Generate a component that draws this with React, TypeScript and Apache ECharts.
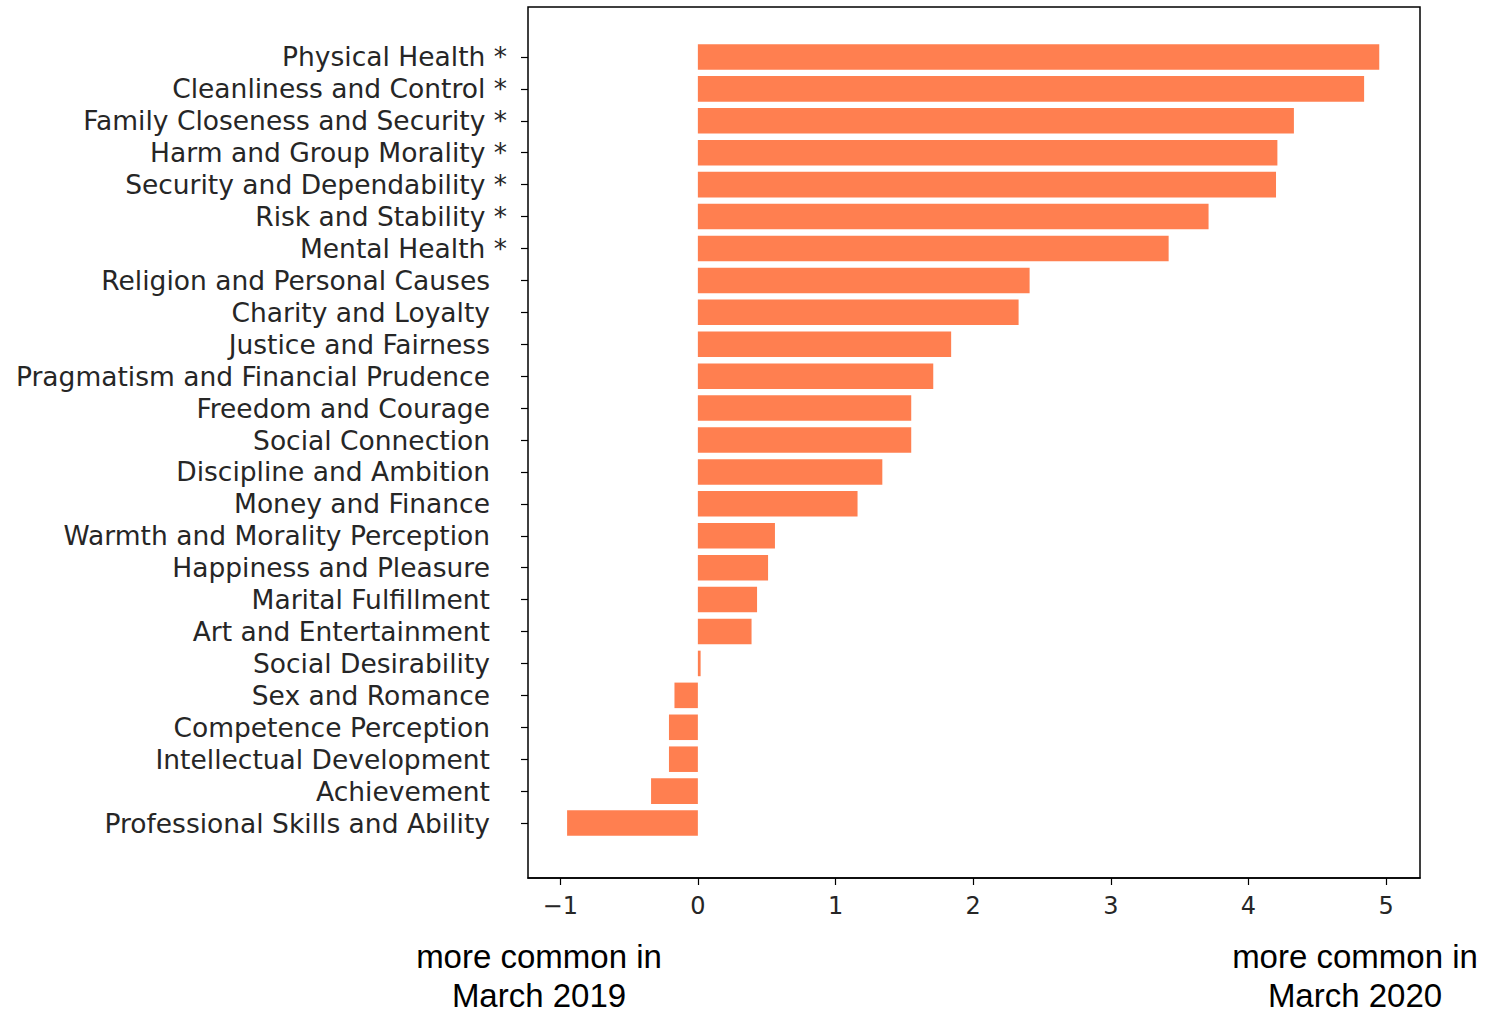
import React, { useEffect, useRef } from "react";
import * as echarts from "echarts";

const categories = [
  "Physical Health *",
  "Cleanliness and Control *",
  "Family Closeness and Security *",
  "Harm and Group Morality *",
  "Security and Dependability *",
  "Risk and Stability *",
  "Mental Health *",
  "Religion and Personal Causes",
  "Charity and Loyalty",
  "Justice and Fairness",
  "Pragmatism and Financial Prudence",
  "Freedom and Courage",
  "Social Connection",
  "Discipline and Ambition",
  "Money and Finance",
  "Warmth and Morality Perception",
  "Happiness and Pleasure",
  "Marital Fulfillment",
  "Art and Entertainment",
  "Social Desirability",
  "Sex and Romance",
  "Competence Perception",
  "Intellectual Development",
  "Achievement",
  "Professional Skills and Ability",
];

const values = [
  4.95, 4.84, 4.33, 4.21, 4.2, 3.71, 3.42, 2.41, 2.33, 1.84, 1.71, 1.55, 1.55,
  1.34, 1.16, 0.56, 0.51, 0.43, 0.39, 0.02, -0.17, -0.21, -0.21, -0.34, -0.95,
];

const xTicks = [-1, 0, 1, 2, 3, 4, 5];
const xMin = -1.234;
const xMax = 5.246;

const noteLine1 = "more common in";
const leftNote2 = "March 2019";
const rightNote2 = "March 2020";

const FONT = "DejaVu Sans";
const TEXT = "#262626";
const LABEL_SIZE = 26.5;

export default function App() {
  const ref = useRef<HTMLDivElement>(null);
  useEffect(() => {
    if (!ref.current) return;
    const chart = echarts.init(ref.current, undefined, { renderer: "svg" });
    const gridLeft = 528;
    const gridRight = 1497 - 1420;
    const noteStyle = {
      fontFamily: "Liberation Sans, Arial",
      fontSize: 33,
      fill: "#000",
      textAlign: "center",
      textVerticalAlign: "middle",
    };
    chart.setOption({
      animation: false,
      backgroundColor: "#ffffff",
      grid: [
        {
          left: gridLeft,
          right: gridRight,
          top: 7,
          height: 871,
          show: true,
          borderColor: "#000000",
          borderWidth: 1.5,
          backgroundColor: "transparent",
        },
        {
          left: gridLeft,
          right: gridRight,
          top: 41,
          height: 798,
        },
      ],
      xAxis: [
        {
          gridIndex: 0,
          type: "value",
          min: xMin,
          max: xMax,
          axisLine: { show: true, lineStyle: { color: "#000", width: 1.5 } },
          axisTick: {
            show: true,
            length: 7,
            lineStyle: { color: "#000", width: 1.2 },
            customValues: xTicks,
          },
          axisLabel: {
            show: true,
            customValues: xTicks,
            margin: 16,
            fontFamily: FONT,
            fontSize: 24,
            color: TEXT,
            formatter: (v: number) => (v < 0 ? "\u2212" + Math.abs(v) : String(v)),
          },
          splitLine: { show: false },
        },
        {
          gridIndex: 1,
          type: "value",
          min: xMin,
          max: xMax,
          show: false,
          splitLine: { show: false },
        },
      ],
      yAxis: [
        {
          gridIndex: 0,
          type: "value",
          min: 0,
          max: 1,
          show: false,
          splitLine: { show: false },
        },
        {
          gridIndex: 1,
          type: "category",
          position: "left",
          inverse: true,
          data: categories,
          axisLine: { show: false, onZero: false },
          axisTick: {
            show: true,
            interval: 0,
            alignWithLabel: true,
            length: 7,
            lineStyle: { color: "#000", width: 1.2 },
          },
          axisLabel: {
            interval: 0,
            hideOverlap: false,
            margin: 21,
            fontFamily: FONT,
            fontSize: LABEL_SIZE,
            color: TEXT,
            formatter: (v: string) =>
              v.endsWith("*") ? `{s|${v}}` : `{n|${v}}`,
            rich: {
              s: { fontFamily: FONT, fontSize: LABEL_SIZE, color: TEXT },
              n: {
                fontFamily: FONT,
                fontSize: LABEL_SIZE,
                color: TEXT,
                padding: [0, 17, 0, 0],
              },
            },
          },
        },
      ],
      series: [
        {
          type: "bar",
          xAxisIndex: 1,
          yAxisIndex: 1,
          data: values,
          barWidth: "80%",
          itemStyle: { color: "#ff7f50" },
        },
      ],
      graphic: [
        { type: "text", x: 539, y: 956, style: { ...noteStyle, text: noteLine1 } },
        { type: "text", x: 539, y: 995, style: { ...noteStyle, text: leftNote2 } },
        { type: "text", x: 1355, y: 956, style: { ...noteStyle, text: noteLine1 } },
        { type: "text", x: 1355, y: 995, style: { ...noteStyle, text: rightNote2 } },
      ],
    });
    return () => chart.dispose();
  }, []);
  return (
    <div
      ref={ref}
      style={{ width: 1497, height: 1013, position: "absolute", left: 0, top: 0 }}
    />
  );
}
